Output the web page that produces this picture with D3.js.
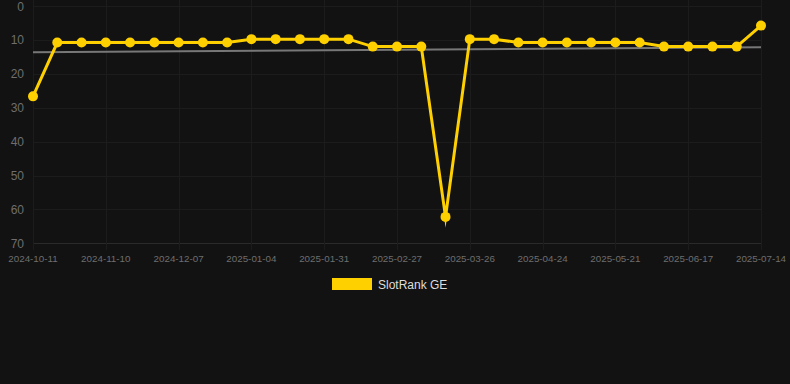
<!DOCTYPE html>
<html lang="en">
<head>
<meta charset="UTF-8">
<title>SlotRank GE</title>
<script src="https://d3js.org/d3.v7.min.js"></script>
<style>
    body { margin: 0; background-color: #121212; overflow: hidden; font-family: "Liberation Sans", Arial, sans-serif; }
</style>
</head>
<body>
<div id="chart"></div>
<script>
    // Dates for each sample (only every third is labelled on the axis)
    const tickLabels = ["2024-10-11", "2024-11-10", "2024-12-07", "2025-01-04", "2025-01-31",
        "2025-02-27", "2025-03-26", "2025-04-24", "2025-05-21", "2025-06-17", "2025-07-14"];

    // SlotRank GE values
    const rankValues = [26.6,
        10.7, 10.7, 10.7, 10.7, 10.7, 10.7, 10.7, 10.7,
        9.7, 9.7, 9.7, 9.7, 9.7,
        11.9, 11.9, 11.9,
        62.2,
        9.7, 9.7,
        10.7, 10.7, 10.7, 10.7, 10.7, 10.7,
        11.9, 11.9, 11.9, 11.9,
        5.7];

    // trend line endpoints
    const trendValues = [13.6, 12.1];

    const yTicks = [0, 10, 20, 30, 40, 50, 60, 70];

    const width = 790, height = 384;

    const svg = d3.select("#chart").append("svg")
        .attr("width", width)
        .attr("height", height);

    const x = d3.scalePoint()
        .domain(d3.range(rankValues.length))
        .range([33, 761]);

    const y = d3.scaleLinear()
        .domain([0, 70])
        .range([6.3, 243.3]);

    // grid
    const grid = svg.append("g").attr("stroke-width", 1);
    grid.selectAll("line.h")
        .data(yTicks)
        .join("line")
        .attr("class", "h")
        .attr("stroke", d => d === 70 ? "#2a2a2a" : "#1c1c1c")
        .attr("x1", 33).attr("x2", 761)
        .attr("y1", d => Math.round(y(d)) + 0.5)
        .attr("y2", d => Math.round(y(d)) + 0.5);

    const labelIdx = tickLabels.map((t, i) => i * 3);
    grid.selectAll("line.v")
        .data(labelIdx)
        .join("line")
        .attr("class", "v")
        .attr("stroke", "#1c1c1c")
        .attr("x1", d => Math.round(x(d)) + 0.5)
        .attr("x2", d => Math.round(x(d)) + 0.5)
        .attr("y1", 0)
        .attr("y2", 250);

    // y axis labels
    svg.append("g").selectAll("text")
        .data(yTicks)
        .join("text")
        .attr("x", 24)
        .attr("y", d => y(d))
        .attr("dy", "0.35em")
        .attr("text-anchor", "end")
        .attr("fill", "#6e6e6e")
        .style("font-size", "12px")
        .text(d => d);

    // x axis labels
    svg.append("g").selectAll("text")
        .data(tickLabels)
        .join("text")
        .attr("x", (d, i) => x(i * 3))
        .attr("y", 259)
        .attr("dy", "0.35em")
        .attr("text-anchor", "middle")
        .attr("fill", "#6e6e6e")
        .style("font-size", "9.8px")
        .text(d => d);

    // trend line
    svg.append("line")
        .attr("x1", x(0))
        .attr("x2", x(rankValues.length - 1))
        .attr("y1", y(trendValues[0]))
        .attr("y2", y(trendValues[1]))
        .attr("stroke", "#777")
        .attr("stroke-width", 2);

    // series line
    const line = d3.line()
        .x((d, i) => x(i))
        .y(d => y(d));

    svg.append("path")
        .datum(rankValues)
        .attr("d", line)
        .attr("fill", "none")
        .attr("stroke", "#ffd000")
        .attr("stroke-width", 3)
        .attr("stroke-linejoin", "miter")
        .attr("stroke-miterlimit", 10);

    svg.append("g").selectAll("circle")
        .data(rankValues)
        .join("circle")
        .attr("cx", (d, i) => x(i))
        .attr("cy", d => y(d))
        .attr("r", 5)
        .attr("fill", "#ffd000");

    // legend
    const legend = svg.append("g");
    legend.append("rect")
        .attr("x", 332).attr("y", 278)
        .attr("width", 40).attr("height", 12)
        .attr("fill", "#ffd000");
    legend.append("text")
        .attr("x", 378).attr("y", 284.5)
        .attr("dy", "0.35em")
        .attr("fill", "#dddddd")
        .style("font-size", "12px")
        .text("SlotRank GE");
</script>
</body>
</html>
